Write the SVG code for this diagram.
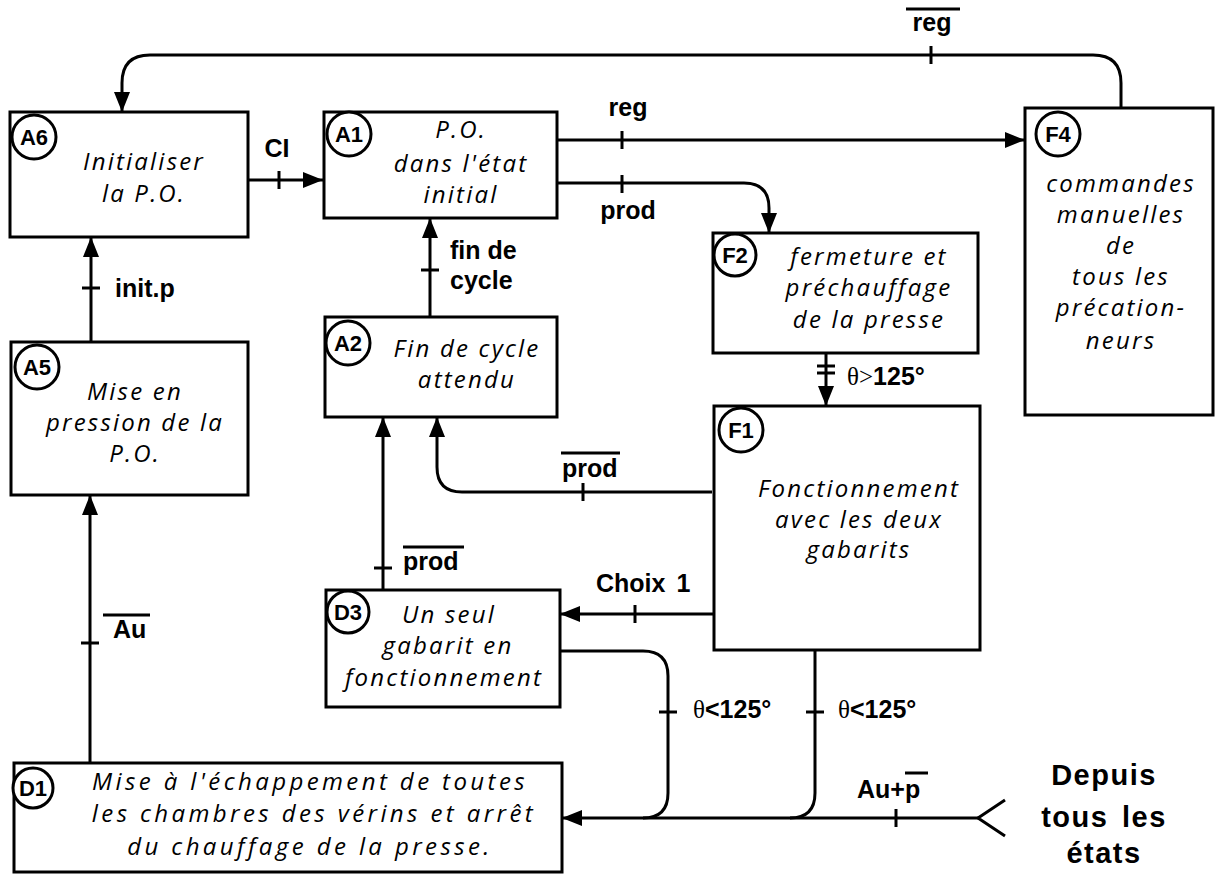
<svg xmlns="http://www.w3.org/2000/svg" width="1221" height="877" viewBox="0 0 1221 877">
<style>
.box{fill:#fff;stroke:#000;stroke-width:3}
.circ{fill:#fff;stroke:#000;stroke-width:3}
.id{font-family:'Liberation Sans',Arial,sans-serif;font-weight:bold;font-size:22px;text-anchor:middle}
.t{font-family:'Open Sans',sans-serif;font-style:italic;font-size:24px;letter-spacing:2.2px;text-anchor:middle}
.wide{letter-spacing:3.4px}
.lbl{font-family:'Liberation Sans',Arial,sans-serif;font-weight:bold;font-size:25px}
.th{font-family:'Liberation Serif','Times New Roman',serif;font-weight:normal}
.edge{fill:none;stroke:#000;stroke-width:3}
.tick{stroke:#000;stroke-width:3}
.big{font-family:'Liberation Sans',Arial,sans-serif;font-weight:bold;font-size:29px;letter-spacing:1.5px;text-anchor:middle}
</style>
<defs>
<marker id="arr" markerUnits="userSpaceOnUse" markerWidth="22" markerHeight="18" refX="20" refY="8" orient="auto">
<path d="M0,0 L20,8 L0,16 z" fill="#000"/>
</marker>
</defs>
<rect width="1221" height="877" fill="#fff"/>

<g id="connectors">
<!-- A6 -> A1 : CI -->
<path class="edge" d="M248,180 L323,180" marker-end="url(#arr)"/>
<line class="tick" x1="279" y1="171" x2="279" y2="189"/>
<text class="lbl" x="277" y="157" text-anchor="middle">CI</text>
<!-- A1 -> F4 : reg -->
<path class="edge" d="M557,140 L1025,140" marker-end="url(#arr)"/>
<line class="tick" x1="622" y1="131" x2="622" y2="149"/>
<text class="lbl" x="628" y="116" text-anchor="middle">reg</text>
<!-- A1 -> F2 : prod -->
<path class="edge" d="M557,183 L744,183 Q769,183 769,208 L769,233" marker-end="url(#arr)"/>
<line class="tick" x1="622" y1="175" x2="622" y2="193"/>
<text class="lbl" x="628" y="219" text-anchor="middle">prod</text>
<!-- F4 -> A6 : reg bar -->
<path class="edge" d="M1121,108 L1121,83 Q1121,55 1093,55 L150,55 Q122,55 122,83 L122,112" marker-end="url(#arr)"/>
<line class="tick" x1="931" y1="46" x2="931" y2="64"/>
<text class="lbl" x="932" y="31" text-anchor="middle">reg</text>
<line class="tick" x1="906" y1="9" x2="960" y2="9"/>
<!-- A5 -> A6 : init.p -->
<path class="edge" d="M91,342 L91,237" marker-end="url(#arr)"/>
<line class="tick" x1="82" y1="288" x2="100" y2="288"/>
<text class="lbl" x="115" y="297">init.p</text>
<!-- A2 -> A1 : fin de cycle -->
<path class="edge" d="M430,317 L430,218" marker-end="url(#arr)"/>
<line class="tick" x1="421" y1="270" x2="439" y2="270"/>
<text class="lbl" x="450" y="259">fin de</text>
<text class="lbl" x="450" y="289">cycle</text>
<!-- F2 -> F1 -->
<path class="edge" d="M826,353 L826,406" marker-end="url(#arr)"/>
<line class="tick" x1="817" y1="366" x2="835" y2="366"/>
<line class="tick" x1="817" y1="373" x2="835" y2="373"/>
<text class="lbl" x="847" y="385"><tspan class="th">θ&gt;</tspan>125°</text>
<!-- F1 -> A2 : prod bar -->
<path class="edge" d="M712,492 L462,492 Q437,492 437,467 L437,417" marker-end="url(#arr)"/>
<line class="tick" x1="583" y1="483" x2="583" y2="501"/>
<text class="lbl" x="562" y="477">prod</text>
<line class="tick" x1="561" y1="453" x2="620" y2="453"/>
<!-- D3 -> A2 : prod bar -->
<path class="edge" d="M383,590 L383,417" marker-end="url(#arr)"/>
<line class="tick" x1="374" y1="568" x2="392" y2="568"/>
<text class="lbl" x="403" y="570">prod</text>
<line class="tick" x1="403" y1="547" x2="464" y2="547"/>
<!-- F1 -> D3 : Choix 1 -->
<path class="edge" d="M714,614 L560,614" marker-end="url(#arr)"/>
<line class="tick" x1="635" y1="605" x2="635" y2="623"/>
<text class="lbl" x="596" y="592" word-spacing="4">Choix 1</text>
<!-- D3 -> D1 -->
<path class="edge" d="M560,651 L643,651 Q668,651 668,676 L668,793 Q668,818 643,818"/>
<line class="tick" x1="659" y1="712" x2="677" y2="712"/>
<text class="lbl" x="693" y="718"><tspan class="th">θ</tspan>&lt;125°</text>
<!-- F1 -> D1 -->
<path class="edge" d="M815,650 L815,793 Q815,818 790,818"/>
<line class="tick" x1="806" y1="712" x2="824" y2="712"/>
<text class="lbl" x="838" y="718"><tspan class="th">θ</tspan>&lt;125°</text>
<!-- Depuis tous les états -> D1 -->
<path class="edge" d="M978,818 L562,818" marker-end="url(#arr)"/>
<path class="edge" d="M1005,800 L978,818 L1005,836"/>
<line class="tick" x1="896" y1="809" x2="896" y2="827"/>
<text class="lbl" x="857" y="798">Au+p</text>
<line class="tick" x1="905" y1="773" x2="928" y2="773"/>
<!-- D1 -> A5 : Au bar -->
<path class="edge" d="M90,763 L90,495" marker-end="url(#arr)"/>
<line class="tick" x1="81" y1="643" x2="99" y2="643"/>
<text class="lbl" x="113" y="638">Au</text>
<line class="tick" x1="103" y1="615" x2="150" y2="615"/>
<text class="big" x="1104" y="785">Depuis</text>
<text class="big" x="1104" y="827" word-spacing="4">tous les</text>
<text class="big" x="1104" y="863">états</text>
</g>

<g id="A6">
<rect class="box" x="10" y="112" width="238" height="125"/>
<circle class="circ" cx="34" cy="137" r="22"/>
<text class="id" x="34" y="145">A6</text>
<text class="t" x="144" y="170">Initialiser</text>
<text class="t" x="144" y="202">la P.O.</text>
</g>

<g id="A1">
<rect class="box" x="324" y="112" width="233" height="106"/>
<circle class="circ" cx="349" cy="134" r="22"/>
<text class="id" x="349" y="142">A1</text>
<text class="t" x="461" y="138">P.O.</text>
<text class="t" x="461" y="172">dans l'état</text>
<text class="t" x="461" y="203">initial</text>
</g>

<g id="F4">
<rect class="box" x="1025" y="108" width="188" height="307"/>
<circle class="circ" cx="1058" cy="134" r="22"/>
<text class="id" x="1058" y="142">F4</text>
<text class="t" x="1121" y="192">commandes</text>
<text class="t" x="1121" y="223">manuelles</text>
<text class="t" x="1121" y="254">de</text>
<text class="t" x="1121" y="285">tous les</text>
<text class="t" x="1121" y="316">précation-</text>
<text class="t" x="1121" y="349">neurs</text>
</g>

<g id="F2">
<rect class="box" x="713" y="233" width="265" height="120"/>
<circle class="circ" cx="735" cy="255" r="21"/>
<text class="id" x="735" y="263">F2</text>
<text class="t" x="869" y="265">fermeture et</text>
<text class="t" x="869" y="296">préchauffage</text>
<text class="t" x="869" y="328">de la presse</text>
</g>

<g id="A2">
<rect class="box" x="325" y="317" width="232" height="100"/>
<circle class="circ" cx="348" cy="343" r="22"/>
<text class="id" x="348" y="351">A2</text>
<text class="t" x="467" y="357">Fin de cycle</text>
<text class="t" x="467" y="388">attendu</text>
</g>

<g id="A5">
<rect class="box" x="11" y="342" width="237" height="153"/>
<circle class="circ" cx="37" cy="367" r="22"/>
<text class="id" x="37" y="375">A5</text>
<text class="t" x="135" y="400">Mise en</text>
<text class="t" x="135" y="431">pression de la</text>
<text class="t" x="135" y="462">P.O.</text>
</g>

<g id="F1">
<rect class="box" x="714" y="406" width="266" height="244"/>
<circle class="circ" cx="741" cy="430" r="22"/>
<text class="id" x="741" y="438">F1</text>
<text class="t" x="859" y="497">Fonctionnement</text>
<text class="t" x="859" y="528">avec les deux</text>
<text class="t" x="859" y="558">gabarits</text>
</g>

<g id="D3">
<rect class="box" x="326" y="590" width="234" height="117"/>
<circle class="circ" cx="348" cy="612" r="21"/>
<text class="id" x="348" y="620">D3</text>
<text class="t" x="449" y="623">Un seul</text>
<text class="t" x="448" y="654">gabarit en</text>
<text class="t" x="444" y="686">fonctionnement</text>
</g>

<g id="D1">
<rect class="box" x="14" y="763" width="548" height="109"/>
<circle class="circ" cx="33" cy="788" r="20"/>
<text class="id" x="33" y="796">D1</text>
<text class="t wide" x="310" y="790">Mise à l'échappement de toutes</text>
<text class="t wide" x="314" y="822">les chambres des vérins et arrêt</text>
<text class="t wide" x="310" y="855">du chauffage de la presse.</text>
</g>
</svg>
